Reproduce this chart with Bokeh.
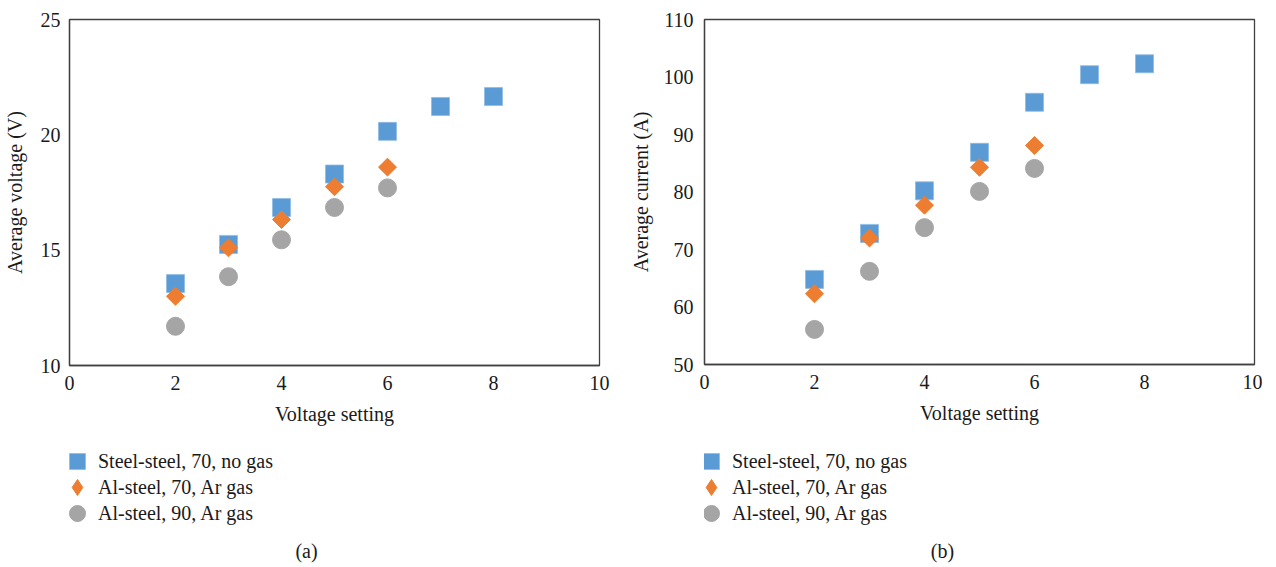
import math
from bokeh.plotting import figure
from bokeh.layouts import row, column
from bokeh.models import Legend, LegendItem, Label, Range1d, FixedTicker
from bokeh.embed import file_html
from bokeh.resources import INLINE

# ---------------- data ----------------
series_labels = ["Steel-steel, 70, no gas", "Al-steel, 70, Ar gas", "Al-steel, 90, Ar gas"]
settings_steel = [2, 3, 4, 5, 6, 7, 8]
settings_al = [2, 3, 4, 5, 6]

voltage_steel70 = [13.55, 15.25, 16.85, 18.3, 20.15, 21.23, 21.66]
voltage_al70 = [13.0, 15.1, 16.33, 17.75, 18.6]
voltage_al90 = [11.7, 13.85, 15.45, 16.85, 17.7]

current_steel70 = [64.8, 72.8, 80.2, 86.9, 95.6, 100.4, 102.3]
current_al70 = [62.3, 72.0, 77.7, 84.3, 88.1]
current_al90 = [56.1, 66.2, 73.8, 80.1, 84.1]

x_ticks = [0, 2, 4, 6, 8, 10]
voltage_ticks = [10, 15, 20, 25]
current_ticks = [50, 60, 70, 80, 90, 100, 110]

FONT = "Liberation Serif"
FS = "20px"
BLUE = "#5B9BD5"
ORANGE = "#ED7D31"
GRAY = "#A5A5A5"
LINE = "#404040"
TXT = "#1a1a1a"

STYLES = [
    dict(marker="square", size=18, fill_color=BLUE, line_color="#8fbbe3", line_width=0.8),
    dict(marker="square", size=12.7, angle=math.pi / 4, fill_color=ORANGE, line_color=ORANGE),
    dict(marker="circle", size=18, fill_color=GRAY, line_color=GRAY),
]
LEGEND_STYLES = [
    STYLES[0],
    dict(marker="diamond", size=18, fill_color=ORANGE, line_color=ORANGE),
    STYLES[2],
]
XS = [settings_steel, settings_al, settings_al]


def make_plot(ylabel, yrange, yticks, ys, frame_w, frame_h, mb_left, mb_right, mb_bottom,
              y_std, y_lab_std):
    p = figure(frame_width=frame_w, frame_height=frame_h,
               x_range=Range1d(0, 10), y_range=Range1d(*yrange),
               output_backend="svg", toolbar_location=None,
               min_border_left=mb_left, min_border_right=mb_right,
               min_border_top=19, min_border_bottom=mb_bottom)
    p.grid.visible = False
    p.outline_line_color = LINE
    p.outline_line_width = 1.3

    p.xaxis.ticker = FixedTicker(ticks=x_ticks)
    p.yaxis.ticker = FixedTicker(ticks=yticks)
    for ax in (p.xaxis, p.yaxis):
        ax.major_tick_line_color = None
        ax.minor_tick_line_color = None
        ax.axis_line_color = LINE
        ax.axis_line_width = 1.3
        ax.major_label_text_font = FONT
        ax.major_label_text_font_size = FS
        ax.major_label_text_color = TXT
        ax.axis_label_text_font = FONT
        ax.axis_label_text_font_size = FS
        ax.axis_label_text_font_style = "normal"
        ax.axis_label_text_color = TXT
    p.xaxis.axis_label = "Voltage setting"
    p.yaxis.axis_label = ylabel
    p.xaxis.major_label_standoff = 4
    p.yaxis.major_label_standoff = y_std
    p.xaxis.axis_label_standoff = 10
    p.yaxis.axis_label_standoff = y_lab_std

    for x, y, st in zip(XS, ys, STYLES):
        p.scatter(x, y, **st)
    return p


def make_legend(width, height, ys, leg_x, standoff, caption, cap_x, cap_y):
    q = figure(width=width, height=height, output_backend="svg", toolbar_location=None,
               x_axis_location=None, y_axis_location=None,
               min_border=0, outline_line_color=None,
               x_range=Range1d(0, 1), y_range=Range1d(0, 1))
    q.grid.visible = False
    for i, (lab, x, y, st) in enumerate(zip(series_labels, XS, ys, LEGEND_STYLES)):
        # hidden proxy renderer (same series) used only for the legend key
        r = q.scatter(x, y, visible=False, **st)
        legend = Legend(items=[LegendItem(label=lab, renderers=[r])],
                        location=(leg_x, 86 - 26 * i), orientation="vertical",
                        margin=0, padding=0, spacing=0,
                        glyph_width=40, glyph_height=40, label_standoff=standoff,
                        border_line_color=None, background_fill_alpha=0,
                        inactive_fill_alpha=0,
                        label_text_font=FONT, label_text_font_size=FS,
                        label_text_color=TXT)
        q.add_layout(legend, "center")
    cap = Label(x=cap_x, y=cap_y, x_units="screen", y_units="screen", text=caption,
                text_align="center", text_baseline="middle",
                text_font=FONT, text_font_size=FS, text_color=TXT)
    q.add_layout(cap)
    return q


left_ys = [voltage_steel70, voltage_al70, voltage_al90]
right_ys = [current_steel70, current_al70, current_al90]

left = make_plot("Average voltage (V)", (10, 25), voltage_ticks, left_ys,
                 530, 346, 61, 25, 68, 3, 12)
right = make_plot("Average current (A)", (50, 110), current_ticks, right_ys,
                  550, 345, 80, 8, 69, 5, 9)

left_leg = make_legend(616, 134, left_ys, -12, 1, "(a)", 237, 17)
right_leg = make_legend(638, 134, right_ys, -13, 1, "(b)", 238, 17)

layout = row(column(left, left_leg), column(right, right_leg))
open("out.html", "w").write(file_html(layout, INLINE))
